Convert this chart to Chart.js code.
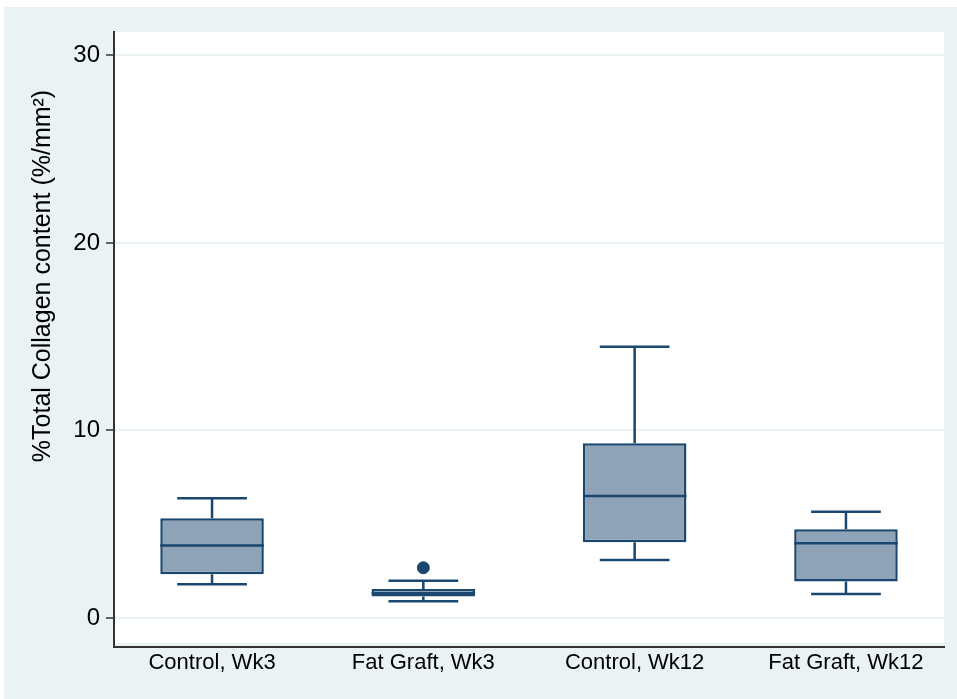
<!DOCTYPE html>
<html lang="en">
<head>
    <meta charset="UTF-8">
    <title>Total Collagen content</title>
    <script src="https://cdn.jsdelivr.net/npm/chart.js"></script>
    <style>
        html, body { margin: 0; padding: 0; background: #fff; }
        #wrap { width: 957px; height: 699px; }
    </style>
</head>
<body>
    <div id="wrap"><canvas id="grafico"></canvas></div>

<script>
    // dados
    var grupos = ['Control, Wk3', 'Fat Graft, Wk3', 'Control, Wk12', 'Fat Graft, Wk12'];
    var minimo = [1.80, 0.89, 3.09, 1.28];
    var q1 = [2.33, 1.14, 4.04, 1.94];
    var mediana = [3.87, 1.32, 6.51, 3.98];
    var q3 = [5.32, 1.55, 9.32, 4.73];
    var maximo = [6.38, 1.99, 14.47, 5.67];
    var outliers = [{ grupo: 2, valor: 2.68 }];
    var yTicks = [0, 10, 20, 30];
    var tituloY = '%Total Collagen content (%/mm\u00B2)';

    var azul = '#1a476f';
    var caixa = '#8fa3b8';
    var fundo = '#eaf2f3';

    var dadosCaixa = grupos.map(function (g, i) {
        return { x: i + 1, y: [q1[i], q3[i]] };
    });
    var dadosOut = outliers.map(function (o) {
        return { x: o.grupo, y: o.valor };
    });

    // fundo, bigodes, medianas e titulo do eixo
    var boxPlugin = {
        id: 'boxPlugin',
        beforeDraw: function (chart) {
            var c = chart.ctx, a = chart.chartArea;
            c.save();
            c.fillStyle = '#fff';
            c.fillRect(0, 0, chart.width, chart.height);
            c.fillStyle = fundo;
            c.fillRect(4, 7, chart.width - 4, chart.height - 7);
            c.fillStyle = '#fff';
            c.fillRect(a.left, a.top, a.right - a.left, a.bottom - a.top - 4);
            c.restore();
        },
        afterDatasetsDraw: function (chart) {
            var c = chart.ctx;
            var xs = chart.scales.x, ys = chart.scales.y;
            c.save();
            c.strokeStyle = azul;
            c.lineWidth = 2.5;
            c.lineCap = 'butt';
            for (var i = 0; i < grupos.length; i++) {
                var cx = xs.getPixelForValue(i + 1);
                var capL = xs.getPixelForValue(i + 1 - 0.165);
                var capR = xs.getPixelForValue(i + 1 + 0.165);
                var boxL = xs.getPixelForValue(i + 1 - 0.245);
                var boxR = xs.getPixelForValue(i + 1 + 0.245);
                c.beginPath();
                // bigode superior
                c.moveTo(cx, ys.getPixelForValue(q3[i]));
                c.lineTo(cx, ys.getPixelForValue(maximo[i]));
                c.moveTo(capL, ys.getPixelForValue(maximo[i]));
                c.lineTo(capR, ys.getPixelForValue(maximo[i]));
                // bigode inferior
                c.moveTo(cx, ys.getPixelForValue(q1[i]));
                c.lineTo(cx, ys.getPixelForValue(minimo[i]));
                c.moveTo(capL, ys.getPixelForValue(minimo[i]));
                c.lineTo(capR, ys.getPixelForValue(minimo[i]));
                // mediana
                c.moveTo(boxL, ys.getPixelForValue(mediana[i]));
                c.lineTo(boxR, ys.getPixelForValue(mediana[i]));
                c.stroke();
            }
            c.restore();

            c.save();
            c.fillStyle = '#000';
            c.font = '25px "Liberation Sans", Arial, sans-serif';
            c.textAlign = 'center';
            c.textBaseline = 'middle';
            c.translate(43, 276);
            c.rotate(-Math.PI / 2);
            c.fillText(tituloY, 0, 0);
            c.restore();
        }
    };

    const ctx = document.getElementById('grafico');

    new Chart(ctx, {
        type: 'bar',
        data: {
            datasets: [{
                type: 'bar',
                label: 'caixa',
                data: dadosCaixa,
                backgroundColor: caixa,
                borderColor: azul,
                borderWidth: 2.5,
                borderSkipped: false,
                barPercentage: 0.49,
                categoryPercentage: 1,
                order: 2
            },
            {
                type: 'scatter',
                label: 'outlier',
                data: dadosOut,
                backgroundColor: azul,
                borderColor: azul,
                pointRadius: 6,
                order: 1
            }]
        },
        options: {
            responsive: true,
            maintainAspectRatio: false,
            animation: false,
            layout: { padding: { top: 32, right: 13, left: 0, bottom: 0 } },
            plugins: {
                legend: { display: false },
                tooltip: { enabled: false }
            },
            scales: {
                x: {
                    type: 'linear',
                    offset: false,
                    min: 0.536,
                    max: 4.464,
                    afterBuildTicks: function (axis) {
                        axis.ticks = grupos.map(function (g, i) { return { value: i + 1 }; });
                    },
                    afterFit: function (axis) { axis.height = 52; },
                    ticks: {
                        color: '#000',
                        padding: 3,
                        maxRotation: 0,
                        font: { family: '"Liberation Sans", Arial, sans-serif', size: 22 },
                        callback: function (v) { return grupos[Math.round(v) - 1]; }
                    },
                    grid: { display: false, drawTicks: false },
                    border: { display: true, color: '#333', width: 2 }
                },
                y: {
                    min: -1.547,
                    max: 31.25,
                    afterBuildTicks: function (axis) {
                        axis.ticks = yTicks.map(function (v) { return { value: v }; });
                    },
                    afterFit: function (axis) { axis.width = 114; },
                    ticks: {
                        color: '#000',
                        padding: 6,
                        font: { family: '"Liberation Sans", Arial, sans-serif', size: 24 }
                    },
                    grid: {
                        color: fundo,
                        lineWidth: 2,
                        tickColor: '#333',
                        tickWidth: 1.5,
                        tickLength: 8
                    },
                    border: { display: true, color: '#333', width: 2 }
                }
            }
        },
        plugins: [boxPlugin]
    });
</script>
</body>
</html>
